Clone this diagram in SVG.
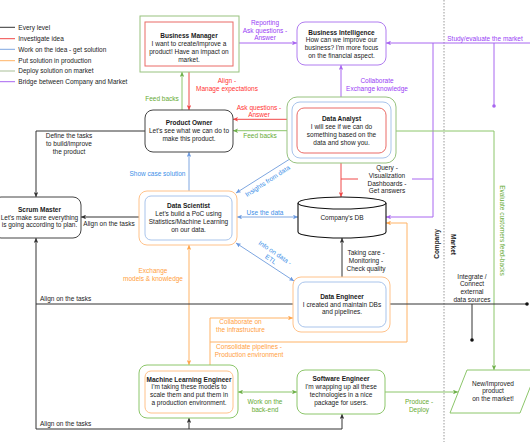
<svg xmlns="http://www.w3.org/2000/svg" width="530" height="442" viewBox="0 0 530 442">
<style>
text{font-family:"Liberation Sans",Arial,sans-serif;font-size:6.5px;fill:#1a1a1a;text-anchor:middle}
.b{font-weight:bold}
.s{text-anchor:start}
.ln{fill:none;stroke-width:1}
.k{stroke:#333}
.r{stroke:#f04848}
.bl{stroke:#7ea6e0}
.o{stroke:#ffb366}
.g{stroke:#8cc66a}
.p{stroke:#a866f0}
.tr{fill:#ff3333}
.tb{fill:#3d8fe8}
.to{fill:#ffa040}
.tg{fill:#66aa33}
.tp{fill:#9940f5}
.box{fill:#fff;stroke-width:1}
</style>
<defs>
<marker id="mk" markerUnits="userSpaceOnUse" markerWidth="5" markerHeight="4.6" refX="5" refY="2.3" orient="auto-start-reverse"><path d="M0,0 L5,2.3 L0,4.6 L1.2,2.3 Z" fill="#333"/></marker>
<marker id="mr" markerUnits="userSpaceOnUse" markerWidth="5" markerHeight="4.6" refX="5" refY="2.3" orient="auto-start-reverse"><path d="M0,0 L5,2.3 L0,4.6 L1.2,2.3 Z" fill="#f04848"/></marker>
<marker id="mb" markerUnits="userSpaceOnUse" markerWidth="5" markerHeight="4.6" refX="5" refY="2.3" orient="auto-start-reverse"><path d="M0,0 L5,2.3 L0,4.6 L1.2,2.3 Z" fill="#6c9ae0"/></marker>
<marker id="mo" markerUnits="userSpaceOnUse" markerWidth="5" markerHeight="4.6" refX="5" refY="2.3" orient="auto-start-reverse"><path d="M0,0 L5,2.3 L0,4.6 L1.2,2.3 Z" fill="#ffa64d"/></marker>
<marker id="mg" markerUnits="userSpaceOnUse" markerWidth="5" markerHeight="4.6" refX="5" refY="2.3" orient="auto-start-reverse"><path d="M0,0 L5,2.3 L0,4.6 L1.2,2.3 Z" fill="#6fb04a"/></marker>
<marker id="mp" markerUnits="userSpaceOnUse" markerWidth="5" markerHeight="4.6" refX="5" refY="2.3" orient="auto-start-reverse"><path d="M0,0 L5,2.3 L0,4.6 L1.2,2.3 Z" fill="#a866f0"/></marker>
</defs>
<rect width="530" height="442" fill="#fff"/>

<g id="legend">
<line x1="0" y1="27.3" x2="15" y2="27.3" class="ln k"/><text class="s" x="18.3" y="29.6">Every level</text>
<line x1="0" y1="38.7" x2="15" y2="38.7" class="ln r" stroke="#ea6b66"/><text class="s" x="18.3" y="41">Investigate idea</text>
<line x1="0" y1="49.3" x2="15" y2="49.3" class="ln bl"/><text class="s" x="18.3" y="51.6">Work on the idea - get solution</text>
<line x1="0" y1="60.7" x2="15" y2="60.7" class="ln o"/><text class="s" x="18.3" y="63">Put solution in production</text>
<line x1="0" y1="71" x2="15" y2="71" class="ln" stroke="#a9bf98"/><text class="s" x="18.3" y="73.3">Deploy solution on market</text>
<line x1="0" y1="81.7" x2="15" y2="81.7" class="ln p"/><text class="s" x="18.3" y="84">Bridge between Company and Market</text>
</g>

<line id="separator" x1="444" y1="0" x2="444" y2="442" stroke="#999" stroke-width="1" stroke-dasharray="1.5 1.5"/>

<g id="connectors">
<path class="ln p" d="M233,43 H297" marker-start="url(#mp)" marker-end="url(#mp)"/>
<path class="ln p" d="M532,43 H386" marker-end="url(#mp)"/>
<path class="ln p" d="M433,43 V217 H386" marker-end="url(#mp)"/>
<path class="ln p" d="M494,43 V106"/>
<circle cx="494" cy="106" r="1.8" fill="#a866f0"/>
<path class="ln p" d="M341,65 V107" marker-start="url(#mp)" marker-end="url(#mp)"/>
<path class="ln p" d="M412,179 H433"/>
<path class="ln r" d="M189,66 V110" marker-start="url(#mr)" marker-end="url(#mr)"/>
<path class="ln r" d="M233,119.3 H297" marker-start="url(#mr)" marker-end="url(#mr)"/>
<path class="ln r" d="M341,153 V197" marker-start="url(#mr)" marker-end="url(#mr)"/>
<path class="ln r" d="M341,179 H358"/>
<path class="ln g" d="M182,110 V72" marker-end="url(#mg)"/>
<path class="ln g" d="M287,130.7 H233" marker-end="url(#mg)"/>
<path class="ln g" d="M396,131 H494 V370" marker-end="url(#mg)"/>
<path class="ln g" d="M238,392 H297" marker-start="url(#mg)" marker-end="url(#mg)"/>
<path class="ln g" d="M385,392 H458" marker-end="url(#mg)"/>
<path class="ln bl" d="M189,152 V196" marker-start="url(#mb)" marker-end="url(#mb)"/>
<path class="ln bl" d="M236,193 L293,157" marker-start="url(#mb)" marker-end="url(#mb)"/>
<path class="ln bl" d="M237,217 H298" marker-start="url(#mb)" marker-end="url(#mb)"/>
<path class="ln bl" d="M236,243 L294,281" marker-start="url(#mb)" marker-end="url(#mb)"/>
<path class="ln o" d="M189,245 V365" marker-start="url(#mo)" marker-end="url(#mo)"/>
<path class="ln o" d="M210,365 V318 H293" marker-end="url(#mo)"/>
<path class="ln o" d="M210,342 H407 V223 H386" marker-end="url(#mo)"/>
<path class="ln k" d="M145,131 H36 V197" marker-end="url(#mk)"/>
<path class="ln k" d="M81,217 H145" marker-start="url(#mk)" marker-end="url(#mk)"/>
<path class="ln k" d="M36,429 V238" marker-end="url(#mk)"/>
<path class="ln k" d="M36,304 H298" marker-end="url(#mk)"/>
<path class="ln k" d="M36,429 H342 V414" marker-end="url(#mk)"/>
<path class="ln k" d="M189,429 V418" marker-end="url(#mk)"/>
<path class="ln k" d="M342,282 V238" marker-end="url(#mk)"/>
<path class="ln k" d="M386,304 H527"/>
<circle cx="527" cy="304" r="1.8" fill="#111"/>
<path class="ln k" d="M472,304 V340"/>
<circle cx="472" cy="340" r="1.8" fill="#111"/>

<text class="tp" x="265" y="25">Reporting</text>
<text class="tp" x="265" y="32.6">Ask questions -</text>
<text class="tp" x="265" y="40.2">Answer</text>
<text class="tp" x="485" y="40.6">Study/evaluate the market</text>
<text class="tp" x="377" y="82.6">Collaborate</text>
<text class="tp" x="377" y="91">Exchange knowledge</text>
<text class="tr" x="227" y="82.6">Align -</text>
<text class="tr" x="227" y="91">Manage expectations</text>
<text class="tg" x="162" y="100.6">Feed backs</text>
<text class="tr" x="259" y="109.6">Ask questions -</text>
<text class="tr" x="259" y="117.3">Answer</text>
<text class="tg" x="260" y="138.3">Feed backs</text>
<text x="69" y="138.3">Define the tasks</text>
<text x="69" y="146.3">to build/improve</text>
<text x="69" y="154">the product</text>
<text class="tb" x="157.5" y="176.3">Show case solution</text>
<text class="tb" transform="translate(267.5,181) rotate(-33)" y="2.3">Insights from data</text>
<text x="387" y="170">Query -</text>
<text x="387" y="177.8">Visualization</text>
<text x="387" y="185.6">Dashboards -</text>
<text x="387" y="193.4">Get answers</text>
<text x="109" y="226.3">Align on the tasks</text>
<text class="tb" x="265" y="214.6">Use the data</text>
<g transform="translate(273,256) rotate(34)"><text class="tb" y="-1.6">Info on data -</text><text class="tb" y="6.2">ETL</text></g>
<text x="366" y="255">Taking care -</text>
<text x="366" y="263">Monitoring -</text>
<text x="366" y="271">Check quality</text>
<text class="to" x="153" y="273">Exchange</text>
<text class="to" x="153" y="280.7">models &amp; knowledge</text>
<text class="s" x="40" y="301.3">Align on the tasks</text>
<text x="472" y="278.5">Integrate /</text>
<text x="472" y="286.3">Connect</text>
<text x="472" y="294.1">external</text>
<text x="472" y="302">data sources</text>
<text class="to" x="240.5" y="324.3">Collaborate on</text>
<text class="to" x="240.5" y="332.3">the infrastructure</text>
<text class="to" x="249" y="349.3">Consolidate pipelines -</text>
<text class="to" x="249" y="357.1">Production environment</text>
<text class="tg" transform="translate(502,230.5) rotate(90)" y="2.3">Evaluate customers feed-backs</text>
<text class="tg" x="265" y="404">Work on the</text>
<text class="tg" x="265" y="411.6">back-end</text>
<text class="tg" x="419" y="404">Produce -</text>
<text class="tg" x="419" y="411.6">Deploy</text>
<text class="s" x="40" y="426.3">Align on the tasks</text>
</g>

<text class="b" transform="translate(437,244) rotate(-90)" y="2.3">Company</text>
<text class="b" transform="translate(453.5,244.5) rotate(90)" y="2.3">Market</text>

<g id="business-manager">
<rect x="140" y="16" width="99" height="56" class="box" stroke="#97c27f"/>
<rect x="145" y="22" width="88" height="44" class="box" stroke="#ea6b66"/>
<text class="b" x="189" y="37.5">Business Manager</text>
<text x="189" y="45.5">I want to create/improve a</text>
<text x="189" y="53.5">product! Have an impact on</text>
<text x="189" y="61.5">market.</text>
</g>

<g id="business-intelligence">
<rect x="297" y="22" width="89" height="43" rx="8" class="box" stroke="#b07cf0"/>
<text class="b" x="341.5" y="34.5">Business Intelligence</text>
<text x="341.5" y="42.3">How can we improve our</text>
<text x="341.5" y="50">business? I'm more focus</text>
<text x="341.5" y="57.7">on the financial aspect.</text>
</g>

<g id="product-owner">
<rect x="145" y="110" width="88" height="42" rx="8" class="box" stroke="#444" stroke-width="1.2"/>
<text class="b" x="189" y="125">Product Owner</text>
<text x="189" y="132.8">Let's see what we can do to</text>
<text x="189" y="140.6">make this product.</text>
</g>

<g id="data-analyst">
<rect x="287" y="97" width="109" height="66" rx="10" class="box" stroke="#97c27f"/>
<rect x="292" y="102" width="99" height="56" rx="8" class="box" stroke="#a9c4eb"/>
<rect x="297" y="108" width="89" height="45" rx="7" class="box" stroke="#ea6b66"/>
<text class="b" x="341.5" y="121.3">Data Analyst</text>
<text x="341.5" y="129">I will see if we can do</text>
<text x="341.5" y="136.8">something based on the</text>
<text x="341.5" y="144.6">data and show you.</text>
</g>

<g id="scrum-master">
<rect x="-7" y="197" width="88" height="41" rx="8" class="box" stroke="#444" stroke-width="1.2"/>
<text class="b" x="39.5" y="211.6">Scrum Master</text>
<text x="39.5" y="219.6">Let's make sure everything</text>
<text x="39.5" y="227.4">is going according to plan.</text>
</g>

<g id="data-scientist">
<rect x="139" y="191" width="98" height="54" rx="8" class="box" stroke="#ffc28a"/>
<rect x="145" y="196" width="87" height="44" rx="6" class="box" stroke="#a9c4eb"/>
<text class="b" x="188.5" y="208.3">Data Scientist</text>
<text x="188.5" y="216.3">Let's build a PoC using</text>
<text x="188.5" y="224">Statistics/Machine Learning</text>
<text x="188.5" y="231.6">on our data.</text>
</g>

<g id="companys-db">
<path d="M298,203 V232 A44,6 0 0 0 386,232 V203" fill="#fff" stroke="#111" stroke-width="1.1"/>
<ellipse cx="342" cy="203" rx="44" ry="6" fill="#fff" stroke="#111" stroke-width="1.1"/>
<text x="342" y="220.3">Company's DB</text>
</g>

<g id="data-engineer">
<rect x="293" y="277" width="97" height="55" rx="8" class="box" stroke="#ffc28a"/>
<rect x="298" y="282" width="88" height="45" rx="7" class="box" stroke="#a9c4eb"/>
<text class="b" x="342" y="299">Data Engineer</text>
<text x="342" y="306.6">I created and maintain DBs</text>
<text x="342" y="314.2">and pipelines.</text>
</g>

<g id="ml-engineer">
<rect x="139" y="365" width="99" height="53" rx="8" class="box" stroke="#8cc66a"/>
<rect x="145" y="371" width="88" height="42" rx="6" class="box" stroke="#ffc28a"/>
<text class="b" x="189" y="381.6">Machine Learning Engineer</text>
<text x="189" y="389.2">I'm taking these models to</text>
<text x="189" y="396.9">scale them and put them in</text>
<text x="189" y="404.6">a production environment.</text>
</g>

<g id="software-engineer">
<rect x="297" y="370" width="88" height="44" rx="8" class="box" stroke="#8cc66a"/>
<text class="b" x="341" y="381.3">Software Engineer</text>
<text x="341" y="389">I'm wrapping up all these</text>
<text x="341" y="396.8">technologies in a nice</text>
<text x="341" y="404.6">package for users.</text>
</g>

<g id="new-product">
<polygon points="467,370 537,370 520,413 450,413" class="box" stroke="#8cc66a"/>
<text x="493" y="385.5">New/Improved</text>
<text x="493" y="393.3">product</text>
<text x="493" y="401">on the market!</text>
</g>
</svg>
